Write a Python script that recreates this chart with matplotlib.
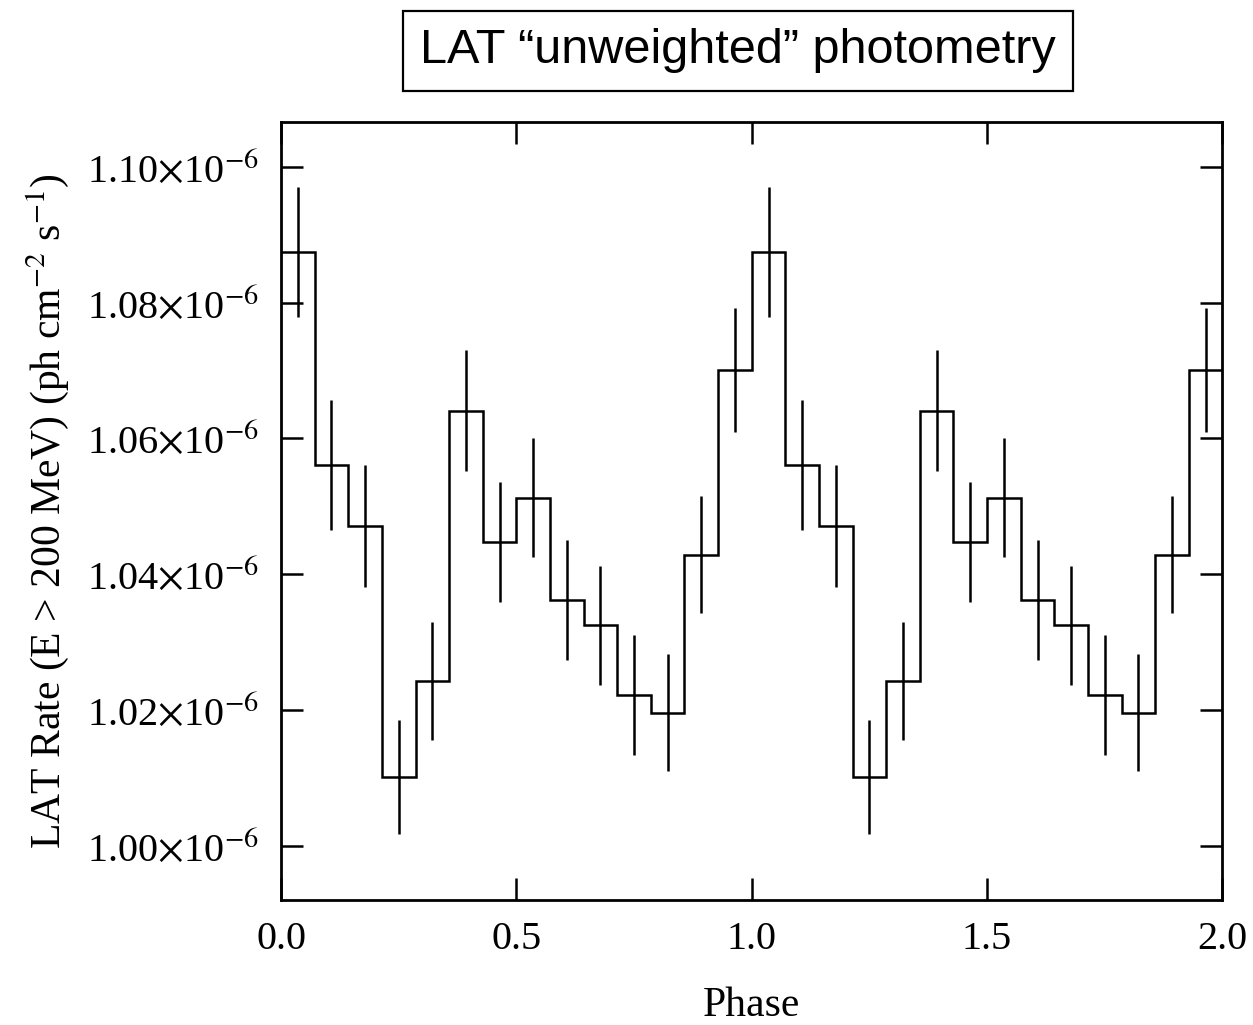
import numpy as np
import matplotlib
matplotlib.use("Agg")
import matplotlib.pyplot as plt
from matplotlib.ticker import FuncFormatter, MultipleLocator

plt.rcParams['font.family'] = ['Liberation Serif', 'DejaVu Serif']
plt.rcParams['mathtext.fontset'] = 'stix'

# one pulse period, 14 phase bins (units of 1e-6 ph cm^-2 s^-1)
rate = [1.0875, 1.0561, 1.0471, 1.0101, 1.0243, 1.0641, 1.0448,
        1.0513, 1.0362, 1.0325, 1.0222, 1.0196, 1.0429, 1.0701]
rate_err = [0.0096, 0.0095, 0.0090, 0.0084, 0.0087, 0.0089, 0.0088,
            0.0087, 0.0088, 0.0088, 0.0088, 0.0086, 0.0086, 0.0091]
n_cycles = 2

# shown over two cycles
y = np.concatenate([rate] * n_cycles) * 1e-6
yerr = np.concatenate([rate_err] * n_cycles) * 1e-6
nbins = len(y)
edges = np.linspace(0, n_cycles, nbins + 1)
centers = 0.5 * (edges[:-1] + edges[1:])

fig = plt.figure(figsize=(12.53, 10.25), dpi=100)
ax = fig.add_axes([0.2243, 0.122, 0.7513, 0.759])

ax.stairs(y, edges, color='black', linewidth=1.8, baseline=None)
ax.errorbar(centers, y, yerr=yerr, fmt='none', ecolor='black', elinewidth=1.8, capsize=0)

ax.set_xlim(0, 2)
ax.set_ylim(0.99206e-6, 1.1066e-6)
ax.xaxis.set_major_locator(MultipleLocator(0.5))
ax.yaxis.set_major_locator(MultipleLocator(0.02e-6))

def fmt_y(v, pos):
    return "%.2f" % (v * 1e6) + r"$\times$10$^{-6}$"

ax.yaxis.set_major_formatter(FuncFormatter(fmt_y))
ax.xaxis.set_major_formatter(FuncFormatter(lambda v, p: "%.1f" % v))

ax.tick_params(direction='in', length=16, width=1.8, labelsize=29,
               top=True, right=True)
ax.tick_params(axis='y', pad=16)
ax.tick_params(axis='x', pad=15)
for s in ax.spines.values():
    s.set_linewidth(2.0)

ax.set_xlabel("Phase", fontsize=30, labelpad=21)
ax.set_ylabel(r"LAT Rate (E > 200 MeV) (ph cm$^{-2}$ s$^{-1}$)", fontsize=30, labelpad=12)

fig.text(0.589, 0.9507, "LAT \u201cunweighted\u201d photometry", fontsize=35,
         family='Liberation Sans', ha='center', va='center',
         bbox=dict(boxstyle='square,pad=0.36', facecolor='white', edgecolor='black', linewidth=1.6))

fig.savefig("out.png", dpi=100)
